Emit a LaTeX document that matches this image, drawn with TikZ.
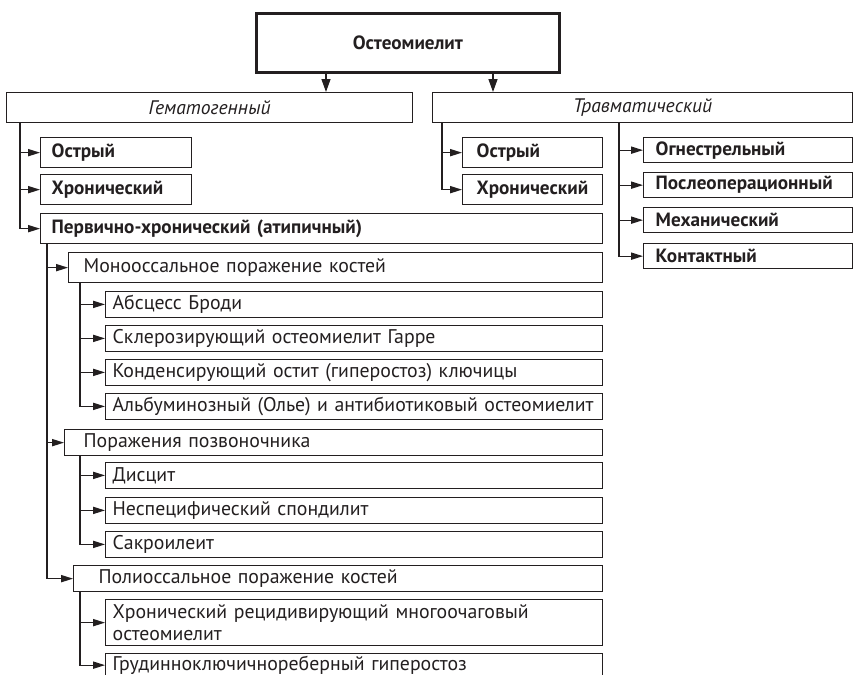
\documentclass[tikz,border=0pt]{standalone}
\usepackage{fontspec}
\setmainfont{PT Sans}
\usetikzlibrary{arrows.meta}
\definecolor{ink}{RGB}{35,31,32}

\begin{document}
\begin{tikzpicture}[x=0.5pt,y=-0.5pt,font=\fontsize{9.9}{11.2}\selectfont,
  cell/.style={draw=ink,text=ink,line width=0.65pt,anchor=north west,inner ysep=0pt},
  head/.style={cell,line width=1.35pt,minimum width=151.5pt,minimum height=29.5pt,font=\fontsize{9.6}{11}\selectfont\bfseries},
  grp/.style={cell,minimum height=15pt,font=\fontsize{9.8}{11}\selectfont\itshape},
  kind/.style={cell,align=left,text width=64.5pt,inner xsep=5.5pt,minimum height=15pt,font=\fontsize{9.6}{11}\selectfont\bfseries},
  cause/.style={cell,align=left,text width=92.5pt,inner xsep=6pt,minimum height=12.5pt,font=\fontsize{9.6}{11}\selectfont\bfseries},
  lvl/.style={cell,align=left,minimum height=13pt},
  leaf/.style={cell,align=left,text width=241.5pt,inner xsep=3.5pt,minimum height=12.75pt},
  wire/.style={draw=ink,line width=0.65pt},
  arr/.style={wire,-{Triangle[length=6pt,width=3.6pt]}},
  bigarr/.style={wire,-{Triangle[length=6.5pt,width=4.5pt]}}]
\useasboundingbox (0,0) rectangle (853,675);
\clip (0,0) rectangle (853,675);

\node[head] (ost) at (255,12) {Остеомиелит};
\node[grp,minimum width=203pt] (gem) at (6,92) {Гематогенный};
\node[grp,minimum width=210pt] (trav) at (432,92) {Травматический};

\node[kind] (g1) at (40,137) {Острый};
\node[kind] (g2) at (40,174) {Хронический};
\node[kind,text width=270pt] (g3) at (40,213) {Первично-хронический (атипичный)};
\node[kind,text width=56pt,inner xsep=7pt] (t1) at (462,137) {Острый};
\node[kind,text width=56pt,inner xsep=7pt] (t2) at (462,174) {Хронический};
\foreach \n/\y/\t in {r1/137/Огнестрельный,r2/172/Послеоперационный,r3/207/Механический,r4/243/Контактный}
  \node[cause] (\n) at (643,\y) {\t};

\node[lvl,text width=252pt,inner xsep=7.5pt,minimum height=15pt] (mono) at (68,252) {Монооссальное поражение костей};
\node[lvl,text width=250pt,inner xsep=9.5pt] (spine) at (64,429) {Поражения позвоночника};
\node[lvl,text width=239.5pt,inner xsep=12.5pt] (poly) at (73,565) {Полиоссальное поражение костей};
\foreach \n/\y/\t in {m1/291/Абсцесс Броди,m2/325/Склерозирующий остеомиелит Гарре,m3/359/Конденсирующий остит (гиперостоз) ключицы,m4/393/Альбуминозный (Олье) и антибиотиковый остеомиелит,s1/462/Дисцит,s2/497/Неспецифический спондилит,s3/531/Сакроилеит}
  \node[leaf] (\n) at (105,\y) {\t};
\node[leaf,minimum height=23pt] (p1) at (105,599) {Хронический рецидивирующий многоочаговый\\остеомиелит};
\node[leaf,minimum height=11.5pt] (p2) at (105,653) {Грудинноключичнореберный гиперостоз};

\coordinate (ka) at (326,0);
\coordinate (kb) at (493,0);
\coordinate (gx) at (20,0);
\coordinate (px) at (47,0);
\coordinate (sx) at (80,0);
\coordinate (tx) at (442,0);
\coordinate (rx) at (619,0);

\draw[bigarr] (ost.south -| ka) -- (gem.north -| ka);
\draw[bigarr] (ost.south -| kb) -- (trav.north -| kb);

\draw[arr] (gem.south -| gx) |- (g3);
\foreach \n in {g1,g2} \draw[arr] (gx |- \n) -- (\n);
\draw[arr] (trav.south -| tx) |- (t2);
\draw[arr] (tx |- t1) -- (t1);
\draw[arr] (trav.south -| rx) |- (r4);
\foreach \n in {r1,r2,r3} \draw[arr] (rx |- \n) -- (\n);

\draw[arr] (g3.south -| px) |- (poly);
\foreach \n in {mono,spine} \draw[arr] (px |- \n) -- (\n);
\draw[arr] (mono.south -| sx) |- (m4);
\foreach \n in {m1,m2,m3} \draw[arr] (sx |- \n) -- (\n);
\draw[arr] (spine.south -| sx) |- (s3);
\foreach \n in {s1,s2} \draw[arr] (sx |- \n) -- (\n);
\draw[arr] (poly.south -| sx) |- (p2);
\draw[arr] (sx |- p1) -- (p1);
\end{tikzpicture}
\end{document}
